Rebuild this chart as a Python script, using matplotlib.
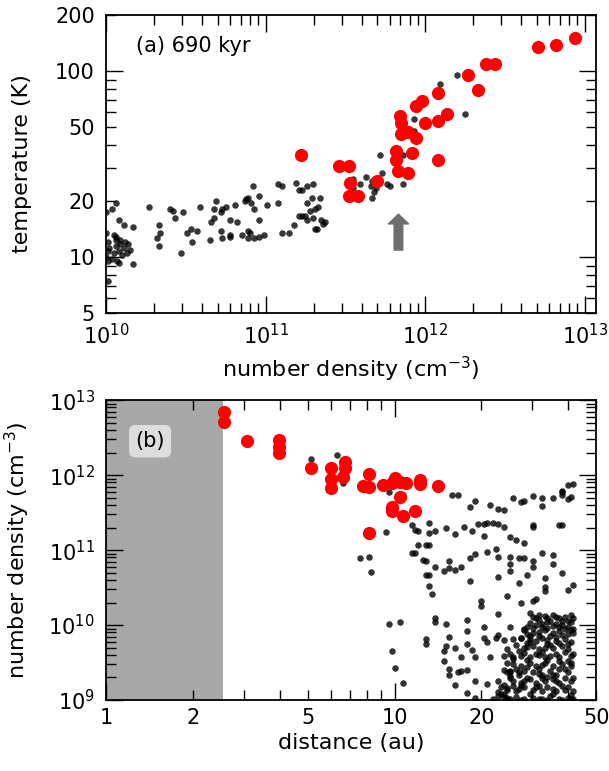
import numpy as np
import matplotlib
matplotlib.use('Agg')
import matplotlib.pyplot as plt
from matplotlib.ticker import FuncFormatter, LogLocator, NullFormatter

# values, stored as log10

# (a) temperature vs number density, all particles
logn_a_black = [10.00, 10.05, 10.06, 10.01, 10.06, 10.09, 10.12, 10.14, 10.11, 10.15, 10.02,
                10.05, 10.08, 10.10, 10.00, 10.04, 10.07, 10.01, 10.01, 10.13, 10.09, 10.06,
                10.06, 10.04, 10.08, 10.11, 10.17, 10.27, 10.40, 10.42, 10.43, 10.48, 10.33,
                10.34, 10.32, 10.33, 10.47, 10.17, 10.08,
                10.59, 10.69, 10.68, 10.73, 10.75, 10.72, 10.81, 10.87, 10.88, 10.89, 10.92,
                10.96, 10.91, 10.93, 11.01, 11.08, 11.08, 11.19, 11.21,
                10.66, 10.68, 10.78, 10.82, 10.96, 10.51, 10.53, 10.57, 10.54, 10.65, 10.72,
                10.73, 10.78, 10.78, 10.85, 10.89, 10.90, 10.89, 10.93, 10.96, 10.99, 11.10,
                11.15, 11.18, 11.21, 11.10,
                11.26, 11.30, 11.26, 11.25, 11.31, 11.34, 11.33, 11.35, 11.37, 11.32,
                11.23, 11.29, 11.28, 11.23, 11.26, 11.30, 11.36, 11.31,
                11.63, 11.66, 11.69, 11.68, 11.67, 11.59, 11.72, 11.73, 11.76, 11.78, 11.86,
                11.93, 12.09, 12.20, 12.25, 11.55, 11.67, 11.55, 11.93, 11.86,
                10.01, 10.00]
logT_a_black = [1.13, 1.12, 1.11, 1.08, 1.09, 1.07, 1.08, 1.07, 1.05, 1.04, 1.05,
                1.02, 1.03, 1.01, 1.00, 0.99, 0.98, 0.98, 1.03, 1.02, 1.09, 1.06,
                1.29, 1.26, 1.20, 1.17, 1.16, 1.27, 1.26, 1.25, 1.21, 1.24, 1.17,
                1.13, 1.10, 1.06, 1.02, 0.96, 0.97,
                1.27, 1.30, 1.26, 1.26, 1.27, 1.24, 1.28, 1.30, 1.31, 1.32, 1.38,
                1.33, 1.29, 1.26, 1.28, 1.29, 1.39, 1.40, 1.36,
                1.19, 1.21, 1.20, 1.19, 1.20, 1.13, 1.15, 1.14, 1.08, 1.09, 1.14,
                1.10, 1.12, 1.11, 1.12, 1.14, 1.13, 1.10, 1.10, 1.11, 1.12, 1.13,
                1.13, 1.17, 1.22, 1.38,
                1.38, 1.39, 1.29, 1.22, 1.26, 1.32, 1.27, 1.20, 1.19, 1.15,
                1.36, 1.32, 1.25, 1.22, 1.20, 1.21, 1.18, 1.15,
                1.43, 1.38, 1.37, 1.35, 1.32, 1.39, 1.55, 1.45, 1.39, 1.38, 1.39,
                1.74, 1.93, 1.98, 1.77, 1.42, 1.41, 1.37, 1.68, 1.55,
                0.87, 1.24]

# (a) selected particles (red)
logn_a_red = [11.22, 11.46, 11.52, 11.53, 11.52, 11.58, 11.70, 11.84, 11.85, 11.85, 11.89,
              11.94, 11.82, 11.92, 11.82, 11.83, 11.89, 11.94, 11.98, 12.00, 12.08, 12.08,
              12.14, 12.08, 12.27, 12.33, 12.38, 12.44, 12.71, 12.82, 12.94]
logT_a_red = [1.55, 1.49, 1.49, 1.40, 1.33, 1.33, 1.41, 1.76, 1.72, 1.66, 1.67,
              1.64, 1.57, 1.56, 1.52, 1.46, 1.45, 1.81, 1.84, 1.72, 1.88, 1.73,
              1.77, 1.52, 1.98, 1.90, 2.04, 2.04, 2.13, 2.14, 2.18]

# (b) number density vs distance, all particles
logd_b_black = [0.98, 1.03, 0.97, 0.88, 0.91, 0.92, 1.06, 1.07, 1.08, 1.12, 1.12, 1.14, 1.18,
                1.21, 1.24, 1.27, 1.29, 1.31, 1.32, 1.34, 1.31, 1.36, 1.38, 1.40, 1.42, 1.45,
                1.48, 1.48, 1.57, 1.20, 1.22, 1.26, 1.28, 1.33, 1.36, 1.38, 1.41, 1.44, 1.45,
                1.48, 1.51, 1.51, 1.55, 1.58, 1.58, 1.60, 1.60, 1.61,
                0.71, 0.80, 0.82, 1.12, 1.07, 1.11, 1.12, 1.62, 1.58, 1.58,
                1.06, 1.08, 1.11, 1.10, 1.11, 1.12, 1.13, 1.14, 1.17, 1.19, 1.19, 1.21, 1.23,
                1.26, 1.26, 1.28, 1.32, 1.35, 1.36, 1.36, 1.40, 1.40, 1.40, 1.43, 1.45, 1.43,
                1.46, 1.48, 1.48, 1.51, 1.52, 1.55, 1.55, 1.58, 1.60, 1.62, 1.52, 1.52, 1.48,
                1.49, 1.44, 1.39, 1.30, 1.30, 1.36, 1.14, 1.14, 1.18, 1.25, 1.25, 1.31,
                0.98, 1.02, 0.99, 1.00, 1.03, 1.11, 1.11, 1.17, 1.17, 1.19, 1.19, 1.22, 1.23,
                1.25, 1.21, 1.18, 1.19, 1.23, 1.25, 1.28, 1.28, 1.25, 1.31, 1.32, 1.33, 1.32,
                1.35, 1.36, 1.38, 1.36, 1.40, 1.21, 1.27, 1.28, 1.41, 1.38, 1.39, 1.47, 1.45,
                1.44, 1.46, 1.41, 1.39, 1.40, 1.40, 1.38, 1.39, 1.36, 1.37, 1.38, 1.39, 1.41,
                # dense block beyond 20 au
                1.48, 1.50, 1.52, 1.53, 1.55, 1.57, 1.59, 1.61, 1.62,
                1.47, 1.49, 1.51, 1.53, 1.55, 1.56, 1.58, 1.61, 1.60,
                1.45, 1.48, 1.50, 1.52, 1.55, 1.57, 1.61, 1.62,
                1.44, 1.47, 1.49, 1.51, 1.53, 1.56, 1.59, 1.61,
                1.45, 1.48, 1.50, 1.52, 1.55, 1.58, 1.60,
                1.41, 1.44, 1.47, 1.49, 1.52, 1.54, 1.57, 1.61,
                1.41, 1.44, 1.47, 1.49, 1.52, 1.55, 1.58, 1.61,
                1.40, 1.43, 1.45, 1.48, 1.51, 1.54, 1.56, 1.60,
                1.41, 1.44, 1.47, 1.49, 1.52, 1.55, 1.57, 1.61,
                1.39, 1.42, 1.45, 1.48, 1.51, 1.53, 1.56, 1.59, 1.62,
                1.36, 1.40, 1.42, 1.45, 1.48, 1.51, 1.54, 1.57, 1.60, 1.62,
                1.50, 1.54, 1.58, 1.46, 1.53, 1.59, 1.47, 1.54, 1.58, 1.46, 1.53, 1.57,
                1.43, 1.51, 1.59, 1.46, 1.53, 1.60, 1.42, 1.50, 1.57, 1.46, 1.53, 1.59,
                1.44, 1.50, 1.58, 1.38, 1.47, 1.55, 1.61,
                1.49, 1.56, 1.60, 1.48, 1.51, 1.57, 1.62, 1.46, 1.50, 1.56, 1.60,
                1.42, 1.47, 1.54, 1.60, 1.40, 1.45, 1.50, 1.56, 1.62, 1.39, 1.46,
                1.51, 1.57, 1.61, 1.38, 1.43, 1.50, 1.55, 1.59, 1.40, 1.45, 1.51,
                1.56, 1.62, 1.37, 1.43, 1.49, 1.55, 1.60, 1.34, 1.39, 1.44, 1.50,
                1.53, 1.58, 1.61]
logn_b_black = [11.77, 11.74, 11.24, 10.89, 10.91, 10.71, 11.34, 11.27, 11.26, 11.36, 11.23, 11.25, 11.30,
                11.22, 11.31, 11.25, 11.35, 11.35, 11.36, 11.36, 11.19, 11.35, 11.31, 11.18, 11.14, 11.09,
                11.31, 11.33, 11.33, 11.73, 11.74, 11.57, 11.65, 11.60, 11.55, 11.54, 11.69, 11.64, 11.66,
                11.72, 11.69, 11.59, 11.70, 11.77, 11.74, 11.87, 11.68, 11.71,
                12.22, 12.27, 11.89, 11.07, 10.96, 10.86, 10.67, 11.88, 11.79, 11.33,
                10.96, 11.07, 11.07, 10.87, 10.67, 10.52, 10.41, 10.77, 10.72, 10.85, 10.76, 10.74, 10.77,
                10.89, 10.59, 10.95, 10.98, 11.02, 10.91, 10.64, 10.91, 10.81, 10.72, 10.90, 10.90, 10.56,
                10.67, 10.85, 10.78, 10.96, 10.63, 10.94, 10.82, 10.70, 10.47, 10.53, 10.51, 10.46, 10.32,
                10.35, 10.30, 10.39, 10.32, 10.25, 10.15, 10.09, 10.04, 10.02, 10.07, 9.92, 9.97,
                10.02, 10.04, 9.66, 9.43, 9.23, 9.75, 9.81, 9.65, 9.52, 9.41, 9.34, 9.38, 9.39,
                9.40, 9.20, 9.72, 9.84, 9.58, 9.75, 9.57, 9.25, 9.10, 9.83, 9.78, 9.58, 9.22,
                9.83, 9.87, 9.80, 9.25, 9.97, 9.69, 9.67, 9.03, 9.81, 9.59, 9.68, 10.16, 9.95,
                9.83, 9.71, 9.55, 9.37, 9.39, 9.32, 9.20, 9.16, 9.11, 9.08, 9.04, 9.03, 9.19,
                # dense block beyond 20 au
                10.11, 10.13, 10.12, 10.10, 10.13, 10.09, 10.11, 10.13, 10.10,
                10.03, 10.00, 10.02, 10.04, 9.99, 10.02, 10.00, 10.04, 9.98,
                9.94, 9.90, 9.91, 9.93, 9.90, 9.92, 9.93, 9.89,
                9.83, 9.81, 9.79, 9.83, 9.80, 9.79, 9.81, 9.78,
                9.70, 9.72, 9.68, 9.70, 9.70, 9.72, 9.68,
                9.57, 9.59, 9.57, 9.61, 9.57, 9.59, 9.57, 9.59,
                9.48, 9.46, 9.50, 9.46, 9.50, 9.46, 9.48, 9.46,
                9.37, 9.34, 9.39, 9.37, 9.34, 9.39, 9.34, 9.37,
                9.25, 9.23, 9.28, 9.23, 9.25, 9.28, 9.23, 9.25,
                9.14, 9.12, 9.17, 9.14, 9.12, 9.17, 9.12, 9.14, 9.12,
                9.05, 9.02, 9.04, 9.02, 9.03, 9.02, 9.05, 9.02, 9.03, 9.02,
                10.07, 10.06, 10.06, 9.97, 9.96, 9.95, 9.86, 9.86, 9.87, 9.76, 9.75, 9.76,
                9.65, 9.64, 9.64, 9.53, 9.53, 9.52, 9.42, 9.42, 9.41, 9.30, 9.31, 9.30,
                9.19, 9.19, 9.19, 9.08, 9.08, 9.08, 9.07,
                10.09, 10.11, 10.06, 9.96, 9.98, 9.97, 9.95, 9.88, 9.85, 9.84, 9.88,
                9.74, 9.78, 9.73, 9.75, 9.62, 9.63, 9.60, 9.62, 9.61, 9.50, 9.44,
                9.47, 9.52, 9.50, 9.40, 9.38, 9.35, 9.33, 9.41, 9.29, 9.26, 9.29,
                9.26, 9.29, 9.17, 9.15, 9.18, 9.15, 9.18, 9.01, 9.00, 9.00, 9.01,
                9.00, 9.00, 9.01]

# (b) selected particles (red)
logd_b_red = [0.41, 0.41, 0.49, 0.60, 0.60, 0.60, 0.71, 0.78, 0.83, 0.83, 0.78, 0.82, 0.78,
              0.91, 0.89, 0.91, 0.96, 0.99, 1.00, 1.04, 1.02, 0.99, 0.99, 1.03, 1.07, 1.09,
              1.09, 1.15, 0.91, 1.02]
logn_b_red = [12.84, 12.71, 12.45, 12.47, 12.38, 12.30, 12.10, 12.10, 12.17, 12.10, 11.95, 11.97, 11.83,
              12.02, 11.85, 11.84, 11.87, 11.89, 11.96, 11.89, 11.71, 11.58, 11.52, 11.46, 11.52, 11.93,
              11.88, 11.85, 11.23, 11.91]

inner_edge = 2.55          # au, shaded region inside
arrow_n = 6.8e11
arrow_T = (10.9, 17.0)

plt.rcParams['font.family'] = ['DejaVu Sans']
plt.rcParams['font.size'] = 16
plt.rcParams['mathtext.default'] = 'regular'

fig = plt.figure(figsize=(6.09, 7.71), dpi=100)
ax1 = fig.add_axes([0.174, 0.594, 0.805, 0.3865])
ax2 = fig.add_axes([0.174, 0.092, 0.805, 0.389])


def pick_labels(keep):
    def f(v, pos):
        m = v / 10 ** np.floor(np.log10(v) + 1e-9)
        return '%g' % v if int(round(m)) in keep else ''
    return FuncFormatter(f)


for ax in (ax1, ax2):
    ax.set_xscale('log')
    ax.set_yscale('log')
    ax.tick_params(which='both', direction='in', top=True, right=True, labelsize=15)
    ax.tick_params(which='major', length=12, width=1)
    ax.tick_params(which='minor', length=7, width=1)
    ax.tick_params(axis='y', which='both', pad=8)
    for s in ax.spines.values():
        s.set_linewidth(1.3)

# panel (a)
ax1.scatter(10 ** np.array(logn_a_black), 10 ** np.array(logT_a_black), s=22, c='k', alpha=0.78, lw=0, zorder=2)
ax1.scatter(10 ** np.array(logn_a_red), 10 ** np.array(logT_a_red), s=90, c='red', lw=0, zorder=3)
ax1.annotate('', xy=(arrow_n, arrow_T[1]), xytext=(arrow_n, arrow_T[0]),
             arrowprops=dict(arrowstyle='simple,head_width=1.45,head_length=0.7,tail_width=0.62',
                             color='#6e6e6e', shrinkA=0, shrinkB=0, mutation_scale=10))
ax1.set_xlim(1e10, 1.18e13)
ax1.set_ylim(5, 200)
ax1.tick_params(axis='x', which='both', pad=7)
ax1.xaxis.set_minor_locator(LogLocator(base=10, subs=np.arange(2, 10), numticks=20))
ax1.xaxis.set_minor_formatter(NullFormatter())
ax1.yaxis.set_major_locator(LogLocator(base=10, numticks=10))
ax1.yaxis.set_minor_locator(LogLocator(base=10, subs=np.arange(2, 10), numticks=20))
ax1.yaxis.set_major_formatter(FuncFormatter(lambda v, p: '%g' % v))
ax1.yaxis.set_minor_formatter(pick_labels((2, 5)))
ax1.set_xlabel('number density (cm$^{-3}$)', labelpad=5)
ax1.set_ylabel('temperature (K)')
ax1.yaxis.set_label_coords(-0.15, 0.5)
ax1.text(0.062, 0.895, '(a) 690 kyr', transform=ax1.transAxes, fontsize=15, va='center')

# panel (b)
ax2.axvspan(0.5, inner_edge, color='#a8a8a8', lw=0, zorder=0)
ax2.scatter(10 ** np.array(logd_b_black), 10 ** np.array(logn_b_black), s=22, c='k', alpha=0.8, lw=0, zorder=2)
ax2.scatter(10 ** np.array(logd_b_red), 10 ** np.array(logn_b_red), s=90, c='red', lw=0, zorder=3)
ax2.set_xlim(1, 50)
ax2.set_ylim(1e9, 1e13)
ax2.tick_params(axis='x', which='both', pad=6)
ax2.xaxis.set_minor_locator(LogLocator(base=10, subs=np.arange(2, 10), numticks=20))
ax2.xaxis.set_major_formatter(FuncFormatter(lambda v, p: '%g' % v))
ax2.xaxis.set_minor_formatter(pick_labels((2, 5)))
ax2.yaxis.set_major_locator(LogLocator(base=10, numticks=10))
ax2.yaxis.set_minor_locator(LogLocator(base=10, subs=np.arange(2, 10), numticks=20))
ax2.yaxis.set_minor_formatter(NullFormatter())
ax2.set_xlabel('distance (au)', labelpad=3)
ax2.set_ylabel('number density (cm$^{-3}$)')
ax2.yaxis.set_label_coords(-0.15, 0.5)
ax2.text(0.09, 0.863, '(b)', transform=ax2.transAxes, fontsize=15, ha='center', va='center',
         bbox=dict(boxstyle='round,pad=0.3', fc='#dddddd', ec='none'))

fig.savefig('out.png', dpi=100)
